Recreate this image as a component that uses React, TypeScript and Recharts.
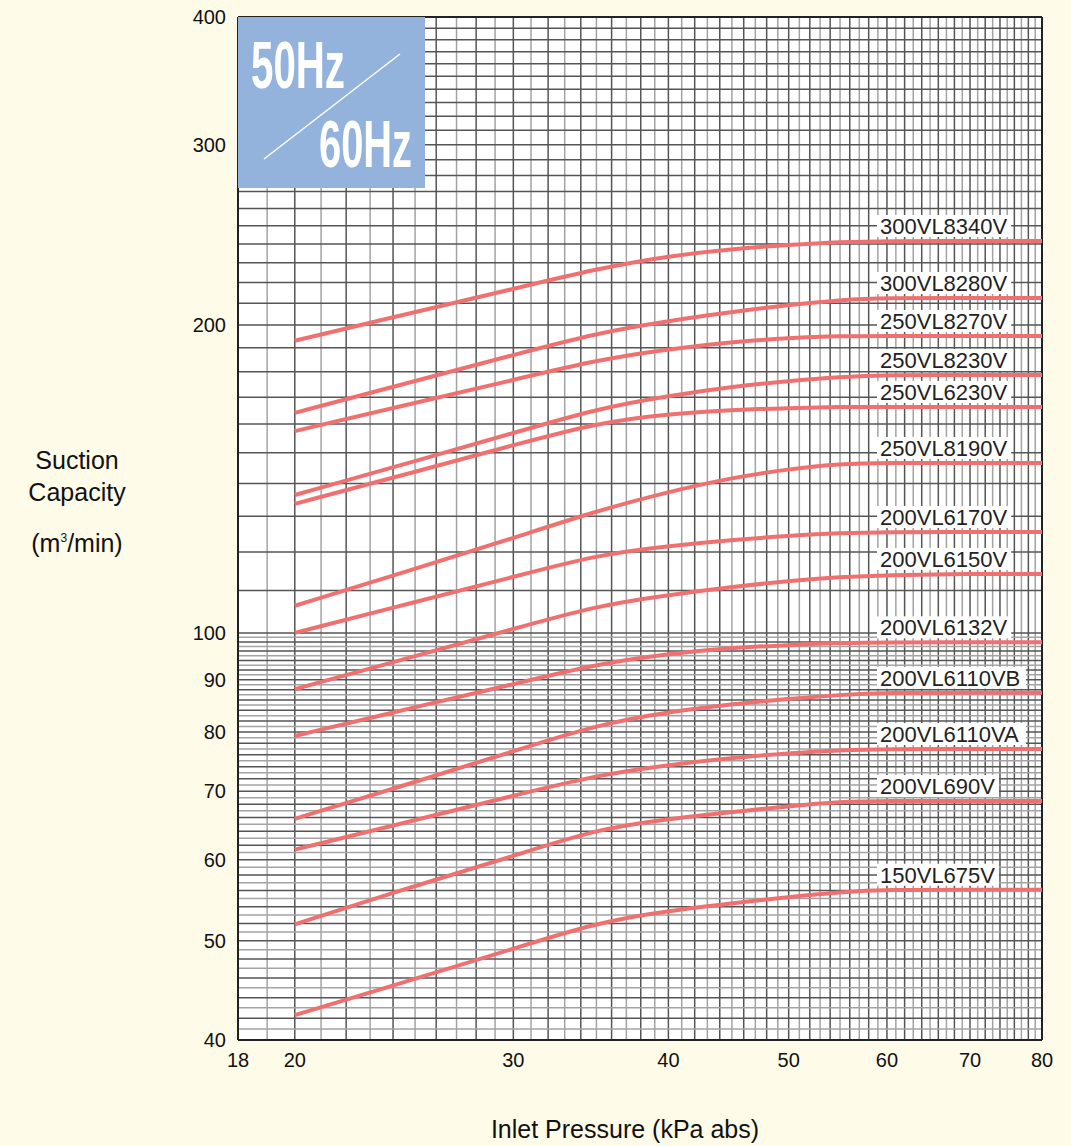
import React from 'react';
import { LineChart, Line, XAxis, YAxis, CartesianGrid, ReferenceLine } from 'recharts';

// inlet pressure (kPa abs) at which each curve was read
const pressures = [20, 25, 30, 35, 40, 45, 50, 55, 60, 70, 80];

// suction capacity (m3/min) per pump model
const s300VL8340V = [193, 205.9, 216.9, 226.9, 233.6, 237.3, 239.5, 241.1, 241.6, 241.6, 241.6];
const s300VL8280V = [164.1, 176.3, 186.9, 196.4, 201.8, 205.9, 209.2, 211.6, 212.5, 212.5, 212.5];
const s250VL8270V = [157.5, 167.8, 176.7, 184.8, 189.4, 192.5, 194.2, 195.1, 195.1, 195.1, 195.1];
const s250VL8230V = [136.4, 147.2, 156.8, 165.6, 170.5, 174, 176.3, 177.9, 178.7, 178.7, 178.7];
const s250VL6230V = [133.7, 143.7, 152.6, 160.4, 163.7, 165.2, 165.9, 166.3, 166.3, 166.3, 166.3];
const s250VL8190V = [106.3, 115.5, 123.8, 131.6, 137.4, 141.8, 144.6, 146.3, 146.6, 146.6, 146.6];
const s200VL6170V = [100, 107.2, 113.4, 119.2, 121.6, 123.3, 124.4, 125.2, 125.5, 125.5, 125.5];
const s200VL6150V = [88.1, 94.9, 100.9, 106.3, 108.9, 110.9, 112.4, 113.4, 113.9, 114.2, 114.2];
const s200VL6132V = [79.3, 84.6, 89.1, 93.2, 95.4, 96.7, 97.3, 97.8, 97.9, 97.9, 97.9];
const s200VL6110VB = [65.8, 71.5, 76.6, 81.3, 83.7, 85.2, 86.2, 87, 87.4, 87.4, 87.4];
const s200VL6110VA = [61.4, 65.6, 69.3, 72.6, 74.3, 75.5, 76.3, 76.8, 77, 77, 77];
const s200VL690V = [51.9, 56.6, 60.5, 64.3, 65.8, 66.8, 67.7, 68.4, 68.5, 68.5, 68.5];
const s150VL675V = [42.3, 45.9, 49.1, 52.1, 53.5, 54.4, 55.2, 55.8, 56.1, 56.1, 56.1];

const series: [string, number[]][] = [
  ['300VL8340V', s300VL8340V],
  ['300VL8280V', s300VL8280V],
  ['250VL8270V', s250VL8270V],
  ['250VL8230V', s250VL8230V],
  ['250VL6230V', s250VL6230V],
  ['250VL8190V', s250VL8190V],
  ['200VL6170V', s200VL6170V],
  ['200VL6150V', s200VL6150V],
  ['200VL6132V', s200VL6132V],
  ['200VL6110VB', s200VL6110VB],
  ['200VL6110VA', s200VL6110VA],
  ['200VL690V', s200VL690V],
  ['150VL675V', s150VL675V],
];

const xTicks = [18, 20, 30, 40, 50, 60, 70, 80];
const yTicks = [40, 50, 60, 70, 80, 90, 100, 200, 300, 400];

const data = pressures.map((p, i) => {
  const row: Record<string, number> = { p };
  series.forEach(([name, vals]) => { row[name] = vals[i]; });
  return row;
});

// graph paper lines: every 1 kPa, every 1 m3/min below 100, every 10 above
const vGrid: number[] = [19];
for (let v = 20; v < 80; v++) vGrid.push(v);
const hGrid: number[] = [];
for (let v = 41; v <= 100; v++) hGrid.push(v);
for (let v = 110; v < 400; v += 10) hGrid.push(v);

const FONT = '"Liberation Sans", Arial, sans-serif';
const RED = '#F07070';
const DARK = '#555';
const LIGHT = '#a3a3a3';

const charW: Record<string, number> = { V: 667, L: 556, A: 667, B: 667 };
const textWidth = (s: string, size: number) =>
  s.split('').reduce((a, c) => a + (charW[c] ?? 556), 0) * size / 1000;

const endLabel = (name: string) => (props: any) => {
  const { cx, cy, index } = props;
  if (index !== pressures.length - 1) return <g key={`d-${name}-${index}`} />;
  const x0 = cx - 162;
  const w = textWidth(name, 22);
  return (
    <g key={`d-${name}-${index}`}>
      <rect x={x0 - 3} y={cy - 26} width={w + 7} height={22} fill="#fff" />
      <text x={x0} y={cy - 7} fontSize={22} fill="#222" fontFamily={FONT}>{name}</text>
    </g>
  );
};

export default function App() {
  return (
    <div style={{ position: 'absolute', left: 0, top: 0, width: 1071, height: 1146, background: '#FEFBE9', fontFamily: FONT }}>
      <LineChart width={1071} height={1146} data={data} margin={{ top: 17, right: 29, bottom: 0, left: 0 }}>
        <CartesianGrid fill="#ffffff" horizontal={false} vertical={false} />
        <XAxis
          dataKey="p" type="number" scale="log" domain={[18, 80]} ticks={xTicks}
          height={106} tickLine={false} tickSize={0} tickMargin={13}
          axisLine={{ stroke: '#222', strokeWidth: 2 }}
          tick={{ fontSize: 20, fill: '#111', fontFamily: FONT }}
        />
        <YAxis
          type="number" scale="log" domain={[40, 400]} ticks={yTicks}
          width={238} tickLine={false} tickSize={0} tickMargin={12}
          axisLine={{ stroke: '#222', strokeWidth: 2 }}
          tick={{ fontSize: 20, fill: '#111', fontFamily: FONT }}
        />
        {vGrid.map((v) => (
          <ReferenceLine key={`v${v}`} x={v} stroke={v % 2 === 0 ? DARK : LIGHT} strokeWidth={1.5} />
        ))}
        {hGrid.map((v) => (
          <ReferenceLine key={`h${v}`} y={v} stroke={v > 100 || v % 2 === 0 ? DARK : LIGHT} strokeWidth={1.5} />
        ))}
        <ReferenceLine y={400} stroke="#222" strokeWidth={2} />
        <ReferenceLine x={80} stroke="#222" strokeWidth={2} />
        {series.map(([name]) => (
          <Line
            key={name} dataKey={name} type="basis" stroke={RED} strokeWidth={4}
            dot={endLabel(name)} activeDot={false} isAnimationActive={false}
          />
        ))}
      </LineChart>

      <div style={{ position: 'absolute', left: 238, top: 17, width: 187, height: 171, background: '#93B3DC' }}>
        <svg width={187} height={171} style={{ overflow: 'visible' }}>
          <text x={13} y={71} fill="#fff" fontSize={66} fontWeight="bold" fontFamily={FONT} textLength={94} lengthAdjust="spacingAndGlyphs">50Hz</text>
          <line x1={26} y1={142} x2={162} y2={37} stroke="#fff" strokeWidth={1.5} />
          <text x={81} y={150} fill="#fff" fontSize={66} fontWeight="bold" fontFamily={FONT} textLength={93} lengthAdjust="spacingAndGlyphs">60Hz</text>
        </svg>
      </div>

      <div style={{ position: 'absolute', left: 0, top: 444, width: 154, textAlign: 'center', fontSize: 25, lineHeight: '32px', color: '#111' }}>
        Suction<br />Capacity
      </div>
      <div style={{ position: 'absolute', left: 0, top: 527, width: 154, textAlign: 'center', fontSize: 25, lineHeight: '32px', color: '#111' }}>
        (m<sup style={{ fontSize: 12, verticalAlign: 'top', lineHeight: '22px' }}>3</sup>/min)
      </div>
      <div style={{ position: 'absolute', left: 0, top: 1113, width: 1250, textAlign: 'center', fontSize: 25, lineHeight: '32px', color: '#111' }}>
        Inlet Pressure (kPa abs)
      </div>
    </div>
  );
}
